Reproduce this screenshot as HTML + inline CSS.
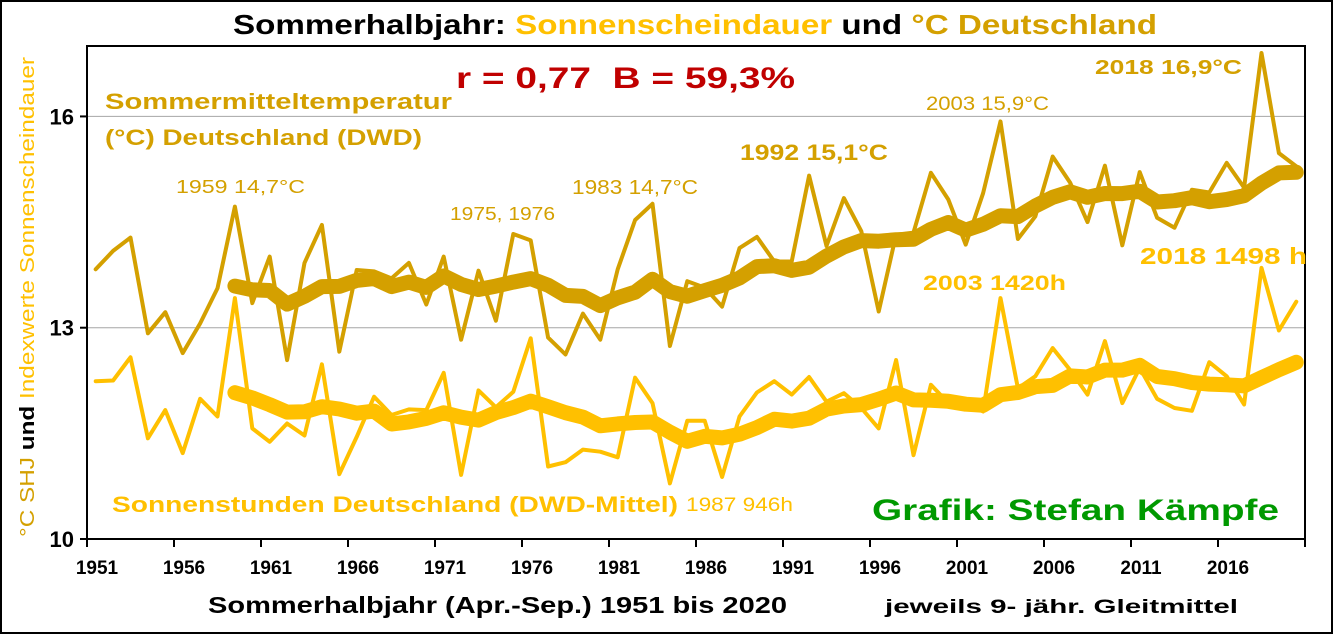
<!DOCTYPE html>
<html><head><meta charset="utf-8"><style>
html,body{margin:0;padding:0;background:#fff}
svg{display:block;font-family:"Liberation Sans",sans-serif}
</style></head><body>
<svg id="chart" width="1333" height="634" viewBox="0 0 1333 634">
<rect x="1" y="1" width="1331" height="632" fill="#fff" stroke="#000" stroke-width="2"/>
<g id="grid"></g>
<g id="series"></g>
<g id="axes"></g>
<text x="233" y="34" font-size="28" font-weight="bold" textLength="924" lengthAdjust="spacingAndGlyphs"><tspan fill="#000">Sommerhalbjahr: </tspan><tspan fill="#ffc000">Sonnenscheindauer </tspan><tspan fill="#000">und </tspan><tspan fill="#d4a000">°C Deutschland</tspan></text>
<text x="456" y="88" font-size="30" font-weight="bold" fill="#c00000" xml:space="preserve" textLength="339" lengthAdjust="spacingAndGlyphs">r = 0,77  B = 59,3%</text>
<text x="105" y="109" font-size="22" font-weight="bold" fill="#d4a000" textLength="347" lengthAdjust="spacingAndGlyphs">Sommermitteltemperatur</text>
<text x="105" y="145" font-size="22" font-weight="bold" fill="#d4a000" textLength="317" lengthAdjust="spacingAndGlyphs">(°C) Deutschland (DWD)</text>
<text x="176" y="193" font-size="18" fill="#d4a000" textLength="129" lengthAdjust="spacingAndGlyphs">1959 14,7°C</text>
<text x="450" y="220" font-size="18" fill="#d4a000" textLength="105" lengthAdjust="spacingAndGlyphs">1975, 1976</text>
<text x="572" y="194" font-size="20" fill="#d4a000" textLength="126" lengthAdjust="spacingAndGlyphs">1983 14,7°C</text>
<text x="740" y="160" font-size="22" font-weight="bold" fill="#d4a000" textLength="148" lengthAdjust="spacingAndGlyphs">1992 15,1°C</text>
<text x="926" y="110" font-size="19" fill="#d4a000" textLength="123" lengthAdjust="spacingAndGlyphs">2003 15,9°C</text>
<text x="1095" y="74" font-size="20" font-weight="bold" fill="#d4a000" textLength="147" lengthAdjust="spacingAndGlyphs">2018 16,9°C</text>
<text x="1140" y="264" font-size="23" font-weight="bold" fill="#ffc000" textLength="167" lengthAdjust="spacingAndGlyphs">2018 1498 h</text>
<text x="923" y="290" font-size="21" font-weight="bold" fill="#ffc000" textLength="143" lengthAdjust="spacingAndGlyphs">2003 1420h</text>
<text x="112" y="512" font-size="22" font-weight="bold" fill="#ffc000" textLength="566" lengthAdjust="spacingAndGlyphs">Sonnenstunden Deutschland (DWD-Mittel)</text>
<text x="686" y="511" font-size="19" fill="#ffc000" textLength="107" lengthAdjust="spacingAndGlyphs">1987 946h</text>
<text x="872" y="520" font-size="30" font-weight="bold" fill="#009900" textLength="407" lengthAdjust="spacingAndGlyphs">Grafik: Stefan Kämpfe</text>
<text x="208" y="613" font-size="23" font-weight="bold" textLength="579" lengthAdjust="spacingAndGlyphs">Sommerhalbjahr (Apr.-Sep.) 1951 bis 2020</text>
<text x="885" y="613" font-size="19" font-weight="bold" textLength="353" lengthAdjust="spacingAndGlyphs">jeweils 9- jähr. Gleitmittel</text>
<text transform="translate(34,537) rotate(-90)" font-size="20" textLength="480" lengthAdjust="spacingAndGlyphs"><tspan fill="#d4a000">°C SHJ </tspan><tspan fill="#000" font-weight="bold">und </tspan><tspan fill="#ffc000">Indexwerte Sonnenscheindauer</tspan></text>
</svg>
<script>
const years = [];
for (let y = 1951; y <= 2020; y++) years.push(y);
const tempValues = [13.83,14.09,14.28,12.92,13.22,12.64,13.06,13.56,14.72,13.35,14.01,12.54,13.92,14.46,12.66,13.82,13.80,13.70,13.92,13.33,14.01,12.83,13.81,13.10,14.33,14.24,12.86,12.62,13.20,12.83,13.83,14.53,14.76,12.74,13.66,13.57,13.30,14.13,14.29,13.94,13.94,15.16,14.16,14.84,14.37,13.23,14.32,14.35,15.20,14.82,14.18,14.91,15.93,14.26,14.58,15.43,15.06,14.50,15.30,14.17,15.21,14.56,14.42,14.96,14.92,15.34,14.99,16.90,15.48,15.29];
const sunValues = [12.24,12.25,12.58,11.43,11.83,11.22,11.99,11.74,13.42,11.57,11.38,11.64,11.47,12.48,10.92,11.45,12.02,11.76,11.84,11.83,12.36,10.91,12.11,11.87,12.09,12.85,11.03,11.09,11.27,11.24,11.16,12.29,11.93,10.79,11.68,11.68,10.88,11.74,12.08,12.24,12.05,12.30,11.95,12.07,11.86,11.57,12.54,11.19,12.19,11.93,11.93,11.81,13.42,12.14,12.31,12.71,12.40,12.05,12.81,11.93,12.43,11.99,11.86,11.82,12.51,12.31,11.91,13.85,12.96,13.37];
const yTicks = [10, 13, 16];
const xTickLabels = [1951,1956,1961,1966,1971,1976,1981,1986,1991,1996,2001,2006,2011,2016];

const L = 87, R = 1305, T = 46, B = 539;
const yMin = 10, yMax = 17;
const n = years.length;
const bw = (R - L) / n;
const xCenter = i => L + (i + 0.5) * bw;
const xEdge = yr => L + (yr - years[0]) * bw;
const yScale = v => B - (v - yMin) / (yMax - yMin) * (B - T);
const NS = 'http://www.w3.org/2000/svg';
function mk(tag, attrs, parent) {
  const e = document.createElementNS(NS, tag);
  for (const k in attrs) e.setAttribute(k, attrs[k]);
  parent.appendChild(e);
  return e;
}
function movingAvg(arr, w) {
  const out = [];
  for (let i = w - 1; i < arr.length; i++) {
    let s = 0;
    for (let j = i - w + 1; j <= i; j++) s += arr[j];
    out.push([i, s / w]);
  }
  return out;
}
const grid = document.getElementById('grid');
yTicks.forEach(v => {
  if (v === yMin) return;
  const g = mk('line', {x1: L, x2: R, y1: yScale(v), y2: yScale(v), stroke: '#a6a6a6', 'stroke-width': 1}, grid);
  
  
});
const series = document.getElementById('series');
function drawLine(points, color, width, name) {
  const d = points.map((p, k) => (k ? 'L' : 'M') + xCenter(p[0]).toFixed(1) + ',' + yScale(p[1]).toFixed(1)).join('');
  const p = mk('path', {d: d, fill: 'none', stroke: color, 'stroke-width': width, 'stroke-linejoin': 'round', 'stroke-linecap': 'round'}, series);
  
  
}
const TEMP = '#d4a000', SUN = '#ffc000';
drawLine(sunValues.map((v, i) => [i, v]), SUN, 4, 'sunshine-annual-line');
drawLine(tempValues.map((v, i) => [i, v]), TEMP, 4, 'temperature-annual-line');
drawLine(movingAvg(sunValues, 9), SUN, 15, 'sunshine-9yr-mean-line');
drawLine(movingAvg(tempValues, 9), TEMP, 15, 'temperature-9yr-mean-line');

const axes = document.getElementById('axes');
let a = mk('polyline', {points: `${L},${B} ${L},${T} ${R},${T} ${R},${B}`, fill: 'none', stroke: '#000', 'stroke-width': 2}, axes);


a = mk('line', {x1: L, x2: R, y1: B, y2: B, stroke: '#000', 'stroke-width': 2}, axes);


yTicks.forEach(v => {
  const t = mk('line', {x1: L - 7, x2: L, y1: yScale(v), y2: yScale(v), stroke: '#000', 'stroke-width': 2}, axes);
  
  
  const lb = mk('text', {x: L - 13, y: yScale(v) + 8, 'font-size': 22, 'font-weight': 'bold', 'text-anchor': 'end'}, axes);
  lb.textContent = v;
  
  
});
xTickLabels.forEach(yr => {
  const x = xEdge(yr);
  const t = mk('line', {x1: x, x2: x, y1: B, y2: B + 8, stroke: '#000', 'stroke-width': 2}, axes);
  
  
  const lb = mk('text', {x: x + 10, y: B + 35, 'font-size': 19, 'font-weight': 'bold', 'text-anchor': 'middle'}, axes);
  lb.textContent = yr;
  
  
});
const endTick = mk('line', {x1: R, x2: R, y1: B, y2: B + 8, stroke: '#000', 'stroke-width': 2}, axes);


</script>
</body></html>
